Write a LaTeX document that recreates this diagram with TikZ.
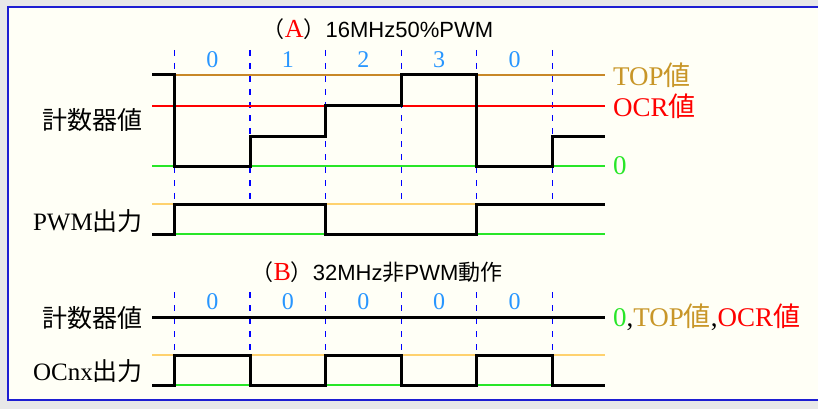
\documentclass[tikz,border=0pt]{standalone}
\usepackage{fontspec}
\setmainfont{Liberation Serif}
\setsansfont{Liberation Sans}
\newfontfamily\jpfont{Noto Sans CJK JP}
\usepackage{xcolor}
\usetikzlibrary{positioning}

\definecolor{topcol}{RGB}{200,136,40}
\definecolor{toptext}{RGB}{200,150,40}
\definecolor{hicol}{RGB}{255,210,110}
\definecolor{zerocol}{RGB}{40,230,40}
\definecolor{numcol}{RGB}{40,150,255}
\definecolor{boxcol}{RGB}{30,30,210}
\definecolor{paper}{RGB}{255,255,246}

\newcommand\seclet[1]{\textcolor{red}{\rmfamily\fontsize{26}{26}\selectfont #1}}

\tikzset{
  sig/.style={line width=3pt},
  refline/.style={line width=1.4pt},
  tickline/.style={blue,line width=1.2pt,dash pattern=on 6pt off 7pt},
  sidelab/.style={font=\fontsize{25}{25}\selectfont,inner sep=0pt},
  valuelab/.style={font=\fontsize{27}{27}\selectfont,inner sep=0pt,anchor=west},
  cntnum/.style={font=\fontsize{24}{24}\selectfont,text=numcol,inner sep=0pt},
  titlelab/.style={font=\sffamily\fontsize{22}{22}\selectfont,inner sep=0pt}
}

\begin{document}
\begin{tikzpicture}[x=1pt,y=-1pt]
  \useasboundingbox (0,0) rectangle (818,409);
  \clip (0,0) rectangle (818,409);
  % frame
  \fill[black!9] (0,0) rectangle (818,409);
  \draw[boxcol,line width=2pt,fill=paper] (8,7) rectangle (840,400);
  \def\xs{152}  % start of the traces
  \def\xe{605}  % end of the traces
  % levels (A): TOP=75, OCR=106, 1=136, 0=166
  % (A) 16MHz 50% PWM
  \node[titlelab] (titleA) at (378,29) {{\jpfont （}\seclet{A}{\jpfont ）}16MHz50\%PWM};
  \foreach \x in {174.5,250,325.6,401.2,476.8,552.4}{
    \draw[tickline] (\x,50) -- (\x,204);
  }
  \foreach \x/\n in {212.3/0,287.8/1,363.4/2,439/3,514.6/0}{
    \node[cntnum] (numA\n) at (\x,60) {\n};
  }
  \draw[refline,topcol] (\xs,75) -- (\xe,75) coordinate (topEnd);
  \draw[refline,red] (\xs,106) -- (\xe,106) coordinate (ocrEnd);
  \draw[refline,zerocol] (\xs,166) -- (\xe,166) coordinate (zeroEnd);
  \draw[refline,hicol] (\xs,204) -- (\xe,204);
  \draw[refline,zerocol] (\xs,234) -- (\xe,234);
  % counter (A)
  \draw[sig] (\xs,75) -| (174.5,166) -| (250,136) -| (325.6,106)
    -| (401.2,75) -| (476.8,166) -| (552.4,136) -- (\xe,136);
  % PWM output
  \draw[sig] (\xs,234) -| (174.5,204) -| (325.6,234) -| (476.8,204) -- (\xe,204);
  \node[sidelab,anchor=east] (cntA) at (143,120) {\jpfont 計数器値};
  \node[sidelab,anchor=east] (pwmA) at (143,221) {PWM{\jpfont 出力}};
  \node[valuelab,right=8pt of topEnd,text=toptext] (topLab) {TOP{\jpfont 値}};
  \node[valuelab,right=8pt of ocrEnd,text=red] (ocrLab) {OCR{\jpfont 値}};
  \node[valuelab,right=8pt of zeroEnd,text=zerocol] (zeroLab) {0};

  % (B) 32MHz non-PWM
  \node[titlelab] (titleB) at (377,272) {{\jpfont （}\seclet{B}{\jpfont ）}32MHz{\jpfont 非}PWM{\jpfont 動作}};
  \foreach \x in {174.5,250,325.6,401.2,476.8,552.4}{
    \draw[tickline] (\x,292) -- (\x,355);
  }
  \foreach \x/\i in {212.3/1,287.8/2,363.4/3,439/4,514.6/5}{
    \node[cntnum] (numB\i) at (\x,302) {0};
  }
  \draw[refline,hicol] (\xs,355) -- (\xe,355);
  \draw[refline,zerocol] (\xs,385) -- (\xe,385);
  % counter (B)
  \draw[sig] (\xs,317) -- (\xe,317) coordinate (cntEnd);
  % OCnx output
  \draw[sig] (\xs,385) -| (174.5,355) -| (250,385) -| (325.6,355) -| (401.2,385)
    -| (476.8,355) -| (552.4,385) -- (\xe,385);
  \node[sidelab,anchor=east] (cntB) at (143,318) {\jpfont 計数器値};
  \node[sidelab,anchor=east] (ocB) at (143,371) {OCnx{\jpfont 出力}};
  \node[valuelab,right=8pt of cntEnd] (allLab)
    {\textcolor{zerocol}{0},\textcolor{toptext}{TOP{\jpfont 値}},\textcolor{red}{OCR{\jpfont 値}}};
\end{tikzpicture}
\end{document}
